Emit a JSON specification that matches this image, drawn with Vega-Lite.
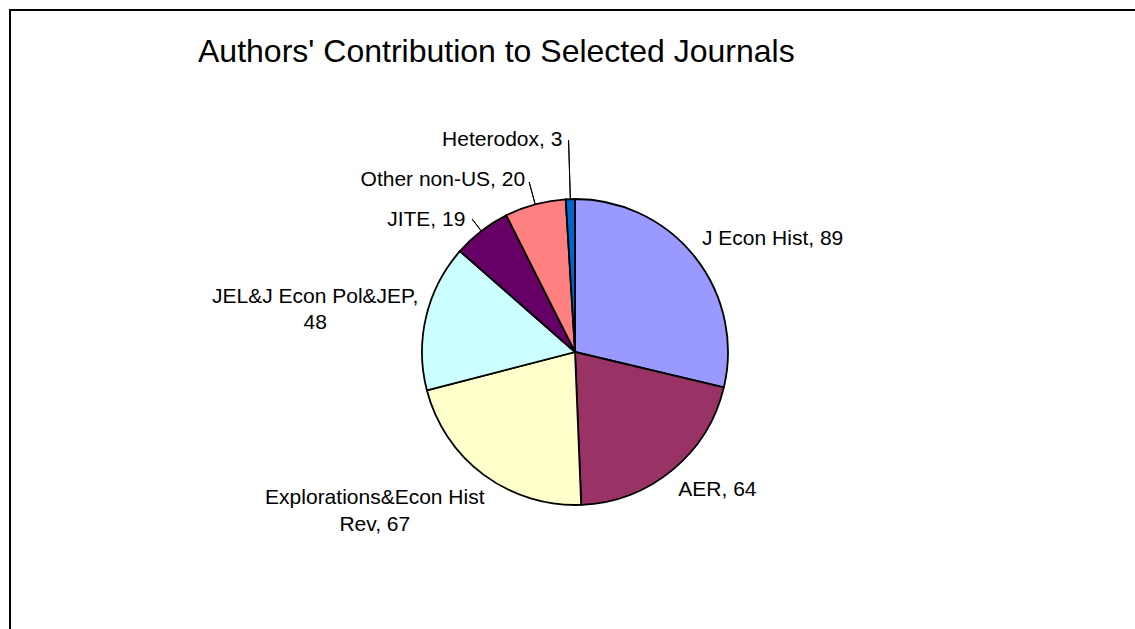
{
  "$schema": "https://vega.github.io/schema/vega-lite/v6.json",
  "autosize": {"type": "none"},
  "width": 1130,
  "height": 684,
  "padding": {"left": 10, "top": 10, "right": -5, "bottom": -65},
  "background": "white",
  "view": {"stroke": "#000", "strokeWidth": 2, "fill": "white"},
  "config": {
    "view": {"stroke": "#000", "strokeWidth": 2},
    "text": {"font": "Liberation Sans", "fontSize": 21, "fill": "#000"}
  },
  "title": {
    "text": "Authors' Contribution to Selected Journals",
    "anchor": "start",
    "frame": "group",
    "dx": 188,
    "offset": -74,
    "baseline": "middle",
    "font": "Liberation Sans",
    "fontSize": 32,
    "fontWeight": "normal",
    "color": "#000"
  },
  "data": {
    "values": [
      {"journal": "J Econ Hist", "authors": 89, "rank": 1, "label": "J Econ Hist, 89"},
      {"journal": "AER", "authors": 64, "rank": 2, "label": "AER, 64"},
      {"journal": "Explorations&Econ Hist Rev", "authors": 67, "rank": 3, "label": ["Explorations&Econ Hist", "Rev, 67"]},
      {"journal": "JEL&J Econ Pol&JEP", "authors": 48, "rank": 4, "label": ["JEL&J Econ Pol&JEP,", "48"]},
      {"journal": "JITE", "authors": 19, "rank": 5, "label": "JITE, 19"},
      {"journal": "Other non-US", "authors": 20, "rank": 6, "label": "Other non-US, 20"},
      {"journal": "Heterodox", "authors": 3, "rank": 7, "label": "Heterodox, 3"}
    ]
  },
  "encoding": {
    "theta": {"field": "authors", "type": "quantitative", "stack": true},
    "order": {"field": "rank", "type": "quantitative"},
    "detail": {"field": "journal", "type": "nominal"}
  },
  "layer": [
    {
      "mark": {"type": "arc", "outerRadius": 153, "stroke": "#000", "strokeWidth": 1.8},
      "encoding": {
        "color": {
          "field": "journal",
          "type": "nominal",
          "scale": {
            "domain": ["J Econ Hist", "AER", "Explorations&Econ Hist Rev", "JEL&J Econ Pol&JEP", "JITE", "Other non-US", "Heterodox"],
            "range": ["#9999FF", "#993366", "#FFFFCC", "#CCFFFF", "#660066", "#FF8080", "#0066CC"]
          },
          "legend": null
        }
      }
    },
    {
      "mark": {"type": "arc", "innerRadius": 153, "outerRadius": 212, "padAngle": 3, "fillOpacity": 0, "stroke": "#000", "strokeWidth": 1},
      "encoding": {"strokeOpacity": {"condition": {"test": "datum.journal === 'Heterodox'", "value": 1}, "value": 0}}
    },
    {
      "mark": {"type": "arc", "innerRadius": 153, "outerRadius": 176, "padAngle": 3, "fillOpacity": 0, "stroke": "#000", "strokeWidth": 1},
      "encoding": {"strokeOpacity": {"condition": {"test": "datum.journal === 'Other non-US'", "value": 1}, "value": 0}}
    },
    {
      "mark": {"type": "arc", "innerRadius": 153, "outerRadius": 168, "padAngle": 3, "fillOpacity": 0, "stroke": "#000", "strokeWidth": 1},
      "encoding": {"strokeOpacity": {"condition": {"test": "datum.journal === 'JITE'", "value": 1}, "value": 0}}
    },
    {
      "mark": {"type": "text", "radius": 153, "align": "left", "baseline": "middle", "dx": 7, "dy": -18},
      "encoding": {"text": {"field": "label"}, "opacity": {"condition": {"test": "datum.journal === 'J Econ Hist'", "value": 1}, "value": 0}}
    },
    {
      "mark": {"type": "text", "radius": 153, "align": "left", "baseline": "middle", "dx": 6, "dy": 20},
      "encoding": {"text": {"field": "label"}, "opacity": {"condition": {"test": "datum.journal === 'AER'", "value": 1}, "value": 0}}
    },
    {
      "mark": {"type": "text", "radius": 153, "align": "center", "baseline": "middle", "lineHeight": 27, "dx": -109, "dy": 23},
      "encoding": {"text": {"field": "label"}, "opacity": {"condition": {"test": "datum.journal === 'Explorations&Econ Hist Rev'", "value": 1}, "value": 0}}
    },
    {
      "mark": {"type": "text", "radius": 153, "align": "center", "baseline": "middle", "lineHeight": 26, "dx": -111, "dy": -20},
      "encoding": {"text": {"field": "label"}, "opacity": {"condition": {"test": "datum.journal === 'JEL&J Econ Pol&JEP'", "value": 1}, "value": 0}}
    },
    {
      "mark": {"type": "text", "radius": 153, "align": "right", "baseline": "middle", "dx": -16, "dy": -11},
      "encoding": {"text": {"field": "label"}, "opacity": {"condition": {"test": "datum.journal === 'JITE'", "value": 1}, "value": 0}}
    },
    {
      "mark": {"type": "text", "radius": 153, "align": "right", "baseline": "middle", "dx": -10, "dy": -24},
      "encoding": {"text": {"field": "label"}, "opacity": {"condition": {"test": "datum.journal === 'Other non-US'", "value": 1}, "value": 0}}
    },
    {
      "mark": {"type": "text", "radius": 153, "align": "right", "baseline": "middle", "dx": -8, "dy": -59},
      "encoding": {"text": {"field": "label"}, "opacity": {"condition": {"test": "datum.journal === 'Heterodox'", "value": 1}, "value": 0}}
    }
  ]
}
